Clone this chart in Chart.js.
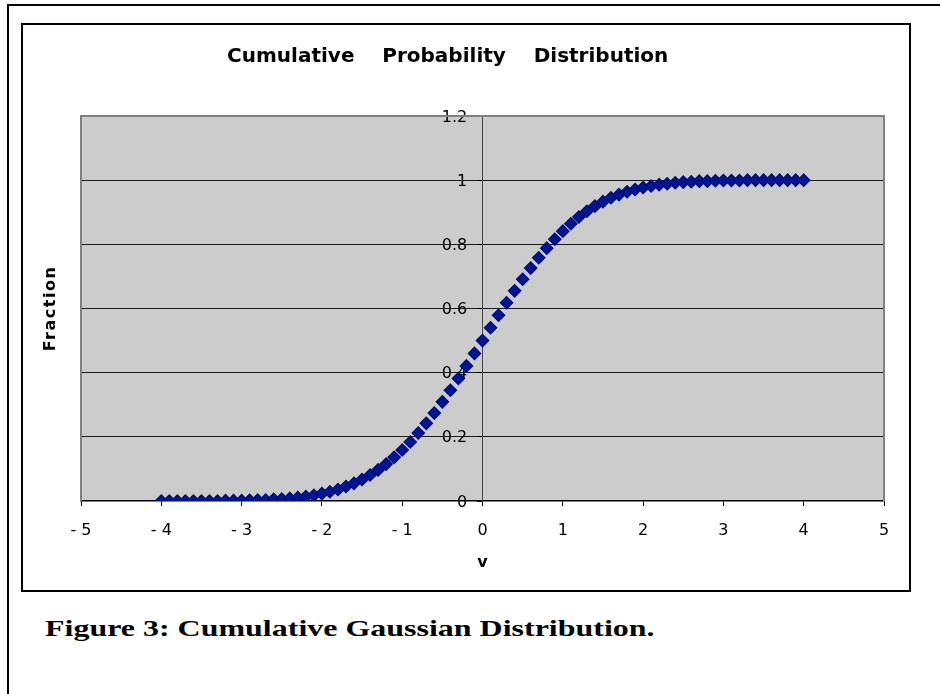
<!DOCTYPE html>
<html>
<head>
<meta charset="utf-8">
<script src="https://cdn.jsdelivr.net/npm/chart.js@4.4.1/dist/chart.umd.min.js"></script>
<style>
  body { margin: 0; background: #fff; width: 940px; height: 694px; overflow: hidden; position: relative; }
  #outer { position: absolute; left: 7px; top: 4px; width: 1000px; height: 800px; border: 2px solid #000; }
  #frame { position: absolute; left: 21px; top: 23px; width: 886px; height: 565px; border: 2px solid #000; }
  #frame canvas { position: absolute; left: 0; top: 0; }
  #caption { position: absolute; left: 45px; top: 617px; margin: 0; white-space: nowrap;
    font: bold 23px/23px "Liberation Serif", "Times New Roman", serif; color: #000;
    transform: scaleX(1.39); transform-origin: 0 0; }
</style>
</head>
<body>
<div id="outer"></div>
<div id="frame"><canvas id="chart-line" width="886" height="565"></canvas></div>
<p id="caption">Figure 3: Cumulative Gaussian Distribution.</p>
<script>
// trailing no-break spaces pull the centred title a little to the left, as in the original
var chartTitle = "Cumulative    Probability    Distribution" + "\u00a0".repeat(10);
var xTitle = "v";
var yTitle = "Fraction";

var vValues = [
  -4.0, -3.9, -3.8, -3.7, -3.6, -3.5, -3.4, -3.3, -3.2, -3.1,
  -3.0, -2.9, -2.8, -2.7, -2.6, -2.5, -2.4, -2.3, -2.2, -2.1,
  -2.0, -1.9, -1.8, -1.7, -1.6, -1.5, -1.4, -1.3, -1.2, -1.1,
  -1.0, -0.9, -0.8, -0.7, -0.6, -0.5, -0.4, -0.3, -0.2, -0.1,
   0.0,  0.1,  0.2,  0.3,  0.4,  0.5,  0.6,  0.7,  0.8,  0.9,
   1.0,  1.1,  1.2,  1.3,  1.4,  1.5,  1.6,  1.7,  1.8,  1.9,
   2.0,  2.1,  2.2,  2.3,  2.4,  2.5,  2.6,  2.7,  2.8,  2.9,
   3.0,  3.1,  3.2,  3.3,  3.4,  3.5,  3.6,  3.7,  3.8,  3.9,
   4.0
];
var fraction = [
  0.000, 0.000, 0.000, 0.000, 0.000, 0.000, 0.000, 0.000, 0.001, 0.001,
  0.001, 0.002, 0.003, 0.003, 0.005, 0.006, 0.008, 0.011, 0.014, 0.018,
  0.023, 0.029, 0.036, 0.045, 0.055, 0.067, 0.081, 0.097, 0.115, 0.136,
  0.159, 0.184, 0.212, 0.242, 0.274, 0.309, 0.345, 0.382, 0.421, 0.460,
  0.500, 0.540, 0.579, 0.618, 0.655, 0.691, 0.726, 0.758, 0.788, 0.816,
  0.841, 0.864, 0.885, 0.903, 0.919, 0.933, 0.945, 0.955, 0.964, 0.971,
  0.977, 0.982, 0.986, 0.989, 0.992, 0.994, 0.995, 0.997, 0.997, 0.998,
  0.999, 0.999, 0.999, 1.000, 1.000, 1.000, 1.000, 1.000, 1.000, 1.000,
  1.000
];
var xTickLabels = ["- 5", "- 4", "- 3", "- 2", "- 1", "0", "1", "2", "3", "4", "5"];
var yTickLabels = ["0", "0.2", "0.4", "0.6", "0.8", "1", "1.2"];

var points = [];
for (var i = 0; i < vValues.length; i++) {
  points.push({ x: vValues[i], y: fraction[i] });
}

// grey plot area with its thin grey frame, and the rotated y title
var plotArea = {
  id: 'plotArea',
  beforeDraw: function (chart) {
    var a = chart.chartArea, c = chart.ctx;
    c.save();
    c.fillStyle = '#cccccc';
    c.fillRect(a.left, a.top, a.right - a.left, a.bottom - a.top);
    c.restore();
  },
  beforeDatasetsDraw: function (chart) {
    var a = chart.chartArea, c = chart.ctx;
    c.save();
    c.strokeStyle = '#808080';
    c.lineWidth = 2;
    c.beginPath();
    c.moveTo(a.left, a.bottom);
    c.lineTo(a.left, a.top);
    c.lineTo(a.right, a.top);
    c.lineTo(a.right, a.bottom);
    c.stroke();
    c.restore();
  },
  afterDraw: function (chart) {
    var a = chart.chartArea, c = chart.ctx;
    c.save();
    c.translate(28, (a.top + a.bottom) / 2);
    c.rotate(-Math.PI / 2);
    c.font = 'bold 16px "DejaVu Sans"';
    c.letterSpacing = '1.5px';
    c.fillStyle = '#000';
    c.textAlign = 'center';
    c.textBaseline = 'middle';
    c.fillText(yTitle, 0, 0);
    c.restore();
  }
};

var ctx = document.getElementById('chart-line');
var myChart = new Chart(ctx, {
  type: 'scatter',
  plugins: [plotArea],
  data: {
    datasets: [{
      data: points,
      pointStyle: 'rectRot',
      pointRadius: 6,
      pointBackgroundColor: '#001696',
      pointBorderColor: '#000e7a',
      pointBorderWidth: 1.5,
      showLine: false
    }]
  },
  options: {
    responsive: false,
    animation: false,
    layout: { padding: { left: 58, right: 25, top: 0, bottom: 0 } },
    plugins: {
      legend: { display: false },
      tooltip: { enabled: false },
      title: {
        display: true,
        text: chartTitle,
        color: '#000',
        font: { family: 'DejaVu Sans', size: 20, weight: 'bold' },
        padding: { top: 20, bottom: 47 }
      }
    },
    scales: {
      x: {
        type: 'linear',
        min: -5, max: 5,
        afterFit: function (s) { s.height = 89; },
        ticks: {
          stepSize: 1,
          color: '#000',
          padding: 15,
          font: { family: 'DejaVu Sans', size: 16 },
          callback: function (v, i) { return xTickLabels[i]; }
        },
        grid: { drawOnChartArea: false, tickLength: 5, tickColor: '#000' },
        border: { color: '#000', width: 1.5 },
        title: {
          display: true,
          text: xTitle,
          color: '#000',
          font: { family: 'DejaVu Sans', size: 16, weight: 'bold' },
          padding: { top: 0, bottom: 18 }
        }
      },
      y: {
        type: 'linear',
        position: { x: 0 },
        min: 0, max: 1.2,
        ticks: {
          stepSize: 0.2,
          color: '#000',
          labelOffset: 1.5,
          font: { family: 'DejaVu Sans', size: 16 },
          callback: function (v, i) { return yTickLabels[i] + '\u00a0\u00a0\u00a0'; }
        },
        grid: {
          tickLength: 5,
          tickColor: '#000',
          color: function (c) {
            return (c.index === 0 || c.index === yTickLabels.length - 1) ? 'rgba(0,0,0,0)' : '#1a1a1a';
          }
        },
        border: { color: '#444', width: 1 }
      }
    }
  }
});
</script>
</body>
</html>
